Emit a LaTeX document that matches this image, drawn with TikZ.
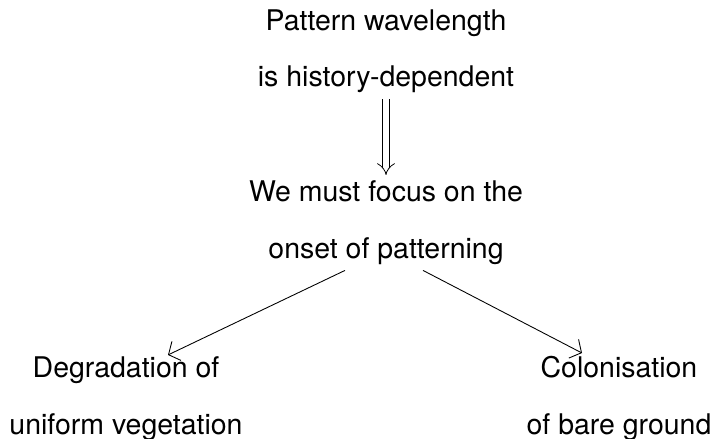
\documentclass[tikz,border=0pt]{standalone}
\usepackage{fontspec}
\setmainfont{TeX Gyre Heros}
\usetikzlibrary{arrows.meta}

\begin{document}
\begin{tikzpicture}[
        txt/.style={anchor=base, font=\fontsize{16.2}{19}\selectfont, text=black},
        arrow/.style={-{Straight Barb[length=5pt, width=12pt]}, line width=0.5pt, black},
        implies/.style={-{Implies}, double, double distance=3.2pt, line width=0.45pt, black}
    ]
        \useasboundingbox (0, 0) rectangle (14.32, -8.78);

        % Statements
        \node[txt] (pat1) at (7.72, -0.62) {Pattern wavelength};
        \node[txt] (pat2) at (7.72, -1.74) {is history-dependent};

        \node[txt] (focus1) at (7.72, -4.04) {We must focus on the};
        \node[txt] (focus2) at (7.72, -5.16) {onset of patterning};

        \node[txt] (degr1) at (2.52, -7.54) {Degradation of};
        \node[txt] (degr2) at (2.52, -8.68) {uniform vegetation};

        \node[txt] (colon1) at (12.38, -7.54) {Colonisation};
        \node[txt] (colon2) at (12.38, -8.68) {of bare ground};

        % Connections
        \draw[implies] (pat2.south) -- (focus1.north);
        \draw[arrow] ([xshift=-0.82cm]focus2.south) -- ([xshift=0.84cm, yshift=-0.1cm]degr1.north);
        \draw[arrow] ([xshift=0.74cm]focus2.south) -- ([xshift=-0.74cm, yshift=-0.07cm]colon1.north);
    \end{tikzpicture}
\end{document}
